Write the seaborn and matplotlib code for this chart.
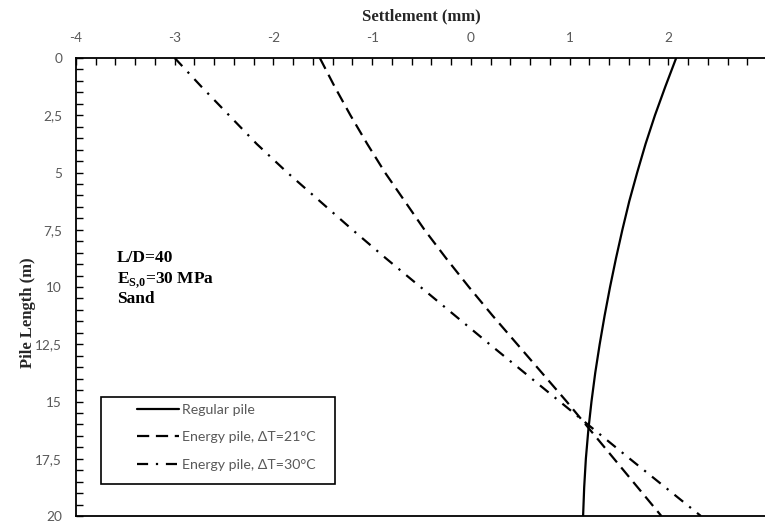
import matplotlib
matplotlib.use("Agg")
import matplotlib.pyplot as plt
import matplotlib.ticker as mticker
from matplotlib.patches import Rectangle
import pandas as pd
import seaborn as sns

# Depth along the pile (m) and settlement (mm) of each case
depth_m = [0, 1.25, 2.5, 3.75, 5, 6.25, 7.5, 8.75, 10, 11.25, 12.5, 13.75, 15, 16.25, 17.5, 18.75, 20]
regular_pile = [2.08, 1.97, 1.865, 1.77, 1.685, 1.605, 1.535, 1.47, 1.41, 1.355, 1.305, 1.26, 1.222, 1.19, 1.165, 1.148, 1.137]
energy_pile_dt21 = [-1.53, -1.38, -1.22, -1.05, -0.87, -0.67, -0.47, -0.25, -0.02, 0.22, 0.47, 0.72, 0.97, 1.21, 1.45, 1.69, 1.93]
energy_pile_dt30 = [-3.0, -2.73, -2.45, -2.17, -1.86, -1.53, -1.20, -0.86, -0.51, -0.16, 0.19, 0.545, 0.90, 1.255, 1.61, 1.97, 2.33]
series_labels = ["Regular pile", "Energy pile, \u0394T=21\u00b0C", "Energy pile, \u0394T=30\u00b0C"]

x_ticks = [-4, -3, -2, -1, 0, 1, 2]
x_tick_labels = ["-4", "-3", "-2", "-1", "0", "1", "2"]
y_ticks = [0, 2.5, 5, 7.5, 10, 12.5, 15, 17.5, 20]
y_tick_labels = ["0", "2,5", "5", "7,5", "10", "12,5", "15", "17,5", "20"]

sns.set_style("white")
plt.rcParams["font.family"] = ["Lato", "DejaVu Sans"]
plt.rcParams["mathtext.fontset"] = "custom"
plt.rcParams["mathtext.rm"] = "Liberation Serif:bold"
plt.rcParams["mathtext.bf"] = "Liberation Serif:bold"

frames = []
for label, values in zip(series_labels, [regular_pile, energy_pile_dt21, energy_pile_dt30]):
    frames.append(pd.DataFrame({"settlement": values, "depth": depth_m, "case": label}))
df = pd.concat(frames, ignore_index=True)

fig = plt.figure(figsize=(7.65, 5.21), dpi=100)
ax = fig.add_axes([76 / 765, 5 / 521, 691 / 765, 458 / 521])

sns.lineplot(
    data=df, x="settlement", y="depth", hue="case", style="case",
    hue_order=series_labels, style_order=series_labels,
    palette=["black"] * 3,
    dashes={series_labels[0]: "", series_labels[1]: (5.5, 3), series_labels[2]: (5, 3.5, 1, 3.5)},
    orient="y", estimator=None, sort=True, linewidth=1.6, ax=ax,
)

ax.set_xlim(-4, 3)
ax.set_ylim(20, 0)

# Axis on top, ticks pointing inward
ax.xaxis.tick_top()
ax.xaxis.set_label_position("top")
ax.xaxis.set_major_locator(mticker.FixedLocator(x_ticks))
ax.xaxis.set_minor_locator(mticker.MultipleLocator(0.2))
ax.set_xticklabels(x_tick_labels)
ax.yaxis.set_major_locator(mticker.FixedLocator(y_ticks))
ax.yaxis.set_minor_locator(mticker.MultipleLocator(0.5))
ax.set_yticklabels(y_tick_labels)

ax.tick_params(axis="both", which="both", direction="in", length=5, width=1.0,
               color="black", labelsize=9.8, labelcolor="#595959", pad=10)
ax.tick_params(axis="x", which="both", top=True, bottom=False)
ax.tick_params(axis="y", which="both", left=True, right=False)

for side in ["top", "left", "bottom"]:
    ax.spines[side].set_visible(True)
    ax.spines[side].set_color("black")
    ax.spines[side].set_linewidth(1.3)
ax.spines["right"].set_visible(False)

ax.set_xlabel("Settlement (mm)", fontfamily="Liberation Serif", fontweight="bold", fontsize=12)
ax.set_ylabel("Pile Length (m)", fontfamily="Liberation Serif", fontweight="bold", fontsize=12)
ax.xaxis.set_label_coords(0.5, 1.082)
ax.yaxis.set_label_coords(-0.058, 0.443)

# Case description
note_kw = dict(transform=ax.transAxes, fontfamily="Liberation Serif", fontweight="bold",
               fontsize=12.5, color="black", ha="left", va="baseline")
ax.text(0.059, 0.555, "L/D=40", **note_kw)
ax.text(0.059, 0.508, r"E$_{\mathrm{S{,}0}}$=30 MPa", **note_kw)
ax.text(0.059, 0.465, "Sand", **note_kw)

# Legend with a plain rectangular frame
handles, labels = ax.get_legend_handles_labels()
leg = ax.legend(handles, labels, loc="upper left", bbox_to_anchor=(0.088, 0.2455),
                frameon=False, fontsize=10.2, labelcolor="#595959",
                handlelength=2.96, handletextpad=0.2, labelspacing=1.12,
                borderpad=0, borderaxespad=0)
for line in leg.get_lines():
    line.set_linewidth(1.6)
ax.add_patch(Rectangle((0.0363, 0.0699), 0.338, 0.19, transform=ax.transAxes,
                       fill=False, edgecolor="black", linewidth=1.2, zorder=5))

fig.savefig("out.png", dpi=100)
